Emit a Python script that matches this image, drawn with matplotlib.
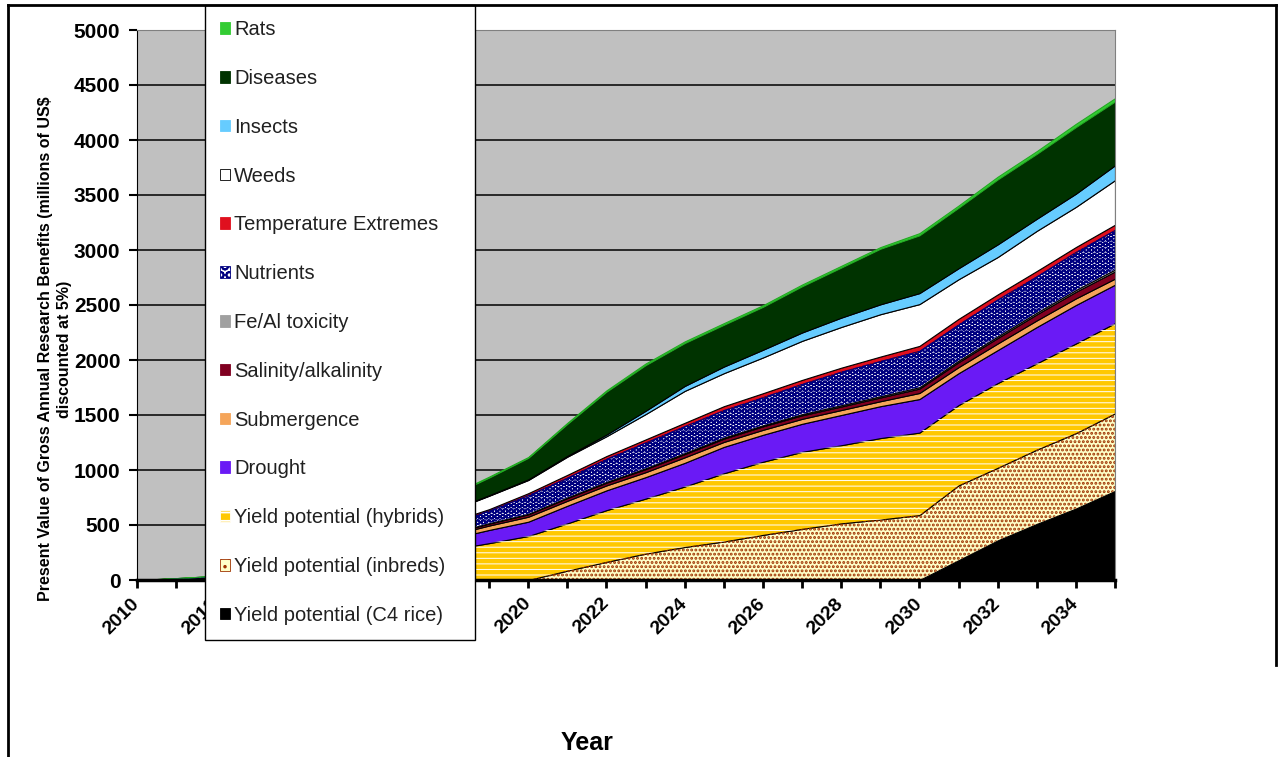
import numpy as np
import matplotlib.pyplot as plt
from matplotlib.patches import Patch
from matplotlib.lines import Line2D

plt.rcParams['font.family'] = ['Liberation Sans', 'DejaVu Sans']
plt.rcParams['hatch.linewidth'] = 1.3

# Data (millions of US$, per constraint, stacked bottom -> top)
years = list(range(2010, 2036))

c4_rice = [0, 0, 0, 0, 0, 0, 0, 0, 0, 0, 0, 0, 0, 0, 0, 0, 0, 0, 0, 0, 0,
           180, 360, 510, 650, 810]
inbreds = [0, 0, 0, 0, 0, 0, 0, 0, 0, 0, 0,
           85, 165, 240, 300, 350, 410, 465, 515, 550, 590,
           680, 660, 675, 685, 705]
hybrids = [0, 7, 13, 30, 57, 94, 141, 201, 275, 335,
           400, 430, 470, 500, 550, 620, 665, 700, 710, 740, 750,
           730, 770, 785, 815, 820]
drought = [0, 2, 5, 11, 20, 34, 50, 72, 98, 120,
           130, 160, 180, 195, 215, 240, 245, 255, 275, 290, 305,
           290, 300, 330, 350, 350]
submergence = [0, 1, 2, 4, 7, 11, 17, 24, 33, 40,
               45, 45, 45, 45, 50, 45, 45, 45, 45, 45, 55,
               55, 60, 60, 60, 55]
salinity = [0, 0, 1, 2, 3, 5, 8, 11, 15, 18,
            22, 25, 25, 28, 30, 30, 32, 32, 32, 34, 40,
            45, 50, 55, 60, 65]
fe_al = [0, 0, 0, 0, 1, 1, 2, 2, 3, 4,
         5, 6, 7, 8, 9, 10, 10, 11, 12, 12, 13,
         14, 15, 16, 17, 18]
nutrients = [0, 2, 5, 10, 20, 32, 48, 69, 94, 115,
             170, 180, 210, 235, 245, 250, 255, 275, 305, 320, 330,
             330, 335, 330, 345, 360]
temperature = [0, 0, 0, 1, 2, 3, 5, 7, 10, 12,
               17, 25, 25, 27, 30, 35, 36, 36, 36, 40, 45,
               50, 46, 48, 45, 47]
weeds = [0, 2, 5, 11, 21, 34, 51, 73, 100, 122,
         120, 165, 180, 230, 290, 300, 325, 355, 370, 385, 380,
         360, 340, 365, 365, 405]
insects = [0, 0, 0, 0, 1, 1, 2, 3, 4, 5,
           6, 8, 15, 30, 45, 60, 70, 76, 85, 90, 100,
           100, 115, 110, 120, 135]
diseases = [0, 3, 6, 14, 27, 45, 67, 96, 131, 160,
            195, 290, 390, 415, 390, 380, 390, 420, 455, 505, 525,
            550, 590, 590, 605, 580]
rats = [0, 0, 0, 1, 2, 3, 4, 5, 7, 9,
        8, 10, 12, 15, 15, 15, 15, 16, 16, 15, 20,
        20, 25, 25, 30, 30]

# (values, label, face, hatch, hatch colour, hatch width, edge colour)
layers = [
    (c4_rice, "Yield potential (C4 rice)", "black", None, None, 0, "black"),
    (inbreds, "Yield potential (inbreds)", "#FFFFC8", "....", "#9E3200", 1.4, "black"),
    (hybrids, "Yield potential (hybrids)", "#FFC800", "---", "white", 0.7, "black"),
    (drought, "Drought", "#6A1AF5", None, None, 0, "black"),
    (submergence, "Submergence", "#F5A55A", None, None, 0, "black"),
    (salinity, "Salinity/alkalinity", "#800020", None, None, 0, "black"),
    (fe_al, "Fe/Al toxicity", "#A0A0A0", None, None, 0, "black"),
    (nutrients, "Nutrients", "white", "OOO", "#000080", 1.3, "black"),
    (temperature, "Temperature Extremes", "#E0101E", None, None, 0, "#8B0000"),
    (weeds, "Weeds", "white", None, None, 0, "black"),
    (insects, "Insects", "#66CCFF", None, None, 0, "black"),
    (diseases, "Diseases", "#003300", None, None, 0, "black"),
    (rats, "Rats", "#33CC33", None, None, 0, "#22AA22"),
]

W, H = 1285, 757
fig = plt.figure(figsize=(W / 100, H / 100), dpi=100)
ax = fig.add_axes([137 / W, 1 - 580 / H, 978 / W, 550 / H])
ax.set_facecolor("#C0C0C0")

x = np.array(years)
base = np.zeros(len(years))
handles = []
for vals, label, fc, hatch, hc, hw, ec in layers:
    top = base + np.array(vals)
    ax.fill_between(x, base, top, facecolor=fc, edgecolor=ec, lw=0.8, zorder=2)
    if hatch:
        with plt.rc_context({"hatch.linewidth": hw}):
            ax.fill_between(x, base, top, facecolor="none", edgecolor=hc, hatch=hatch,
                            lw=0, zorder=2.1)
        handles.append(Patch(facecolor=fc, edgecolor=hc, hatch=hatch[:2], lw=0.6))
    else:
        handles.append(Patch(facecolor=fc, edgecolor="black" if fc == "white" else fc, lw=0.6))
    base = top

ax.set_xlim(2010, 2035)
ax.set_ylim(0, 5000)

ax.set_yticks(range(0, 5001, 500))
ax.yaxis.grid(True, color="black", lw=1.1)
ax.set_axisbelow(True)
ax.tick_params(axis="y", direction="out", length=6, width=1.5, pad=6, labelsize=15)
for t in ax.get_yticklabels():
    t.set_fontweight("bold")

ax.set_xticks(range(2010, 2036, 2))
ax.set_xticks(range(2011, 2036, 2), minor=True)
ax.tick_params(axis="x", which="both", direction="out", length=6, width=2, pad=9)
plt.setp(ax.get_xticklabels(), rotation=45, ha="right", va="center",
         rotation_mode="anchor", fontweight="bold", fontsize=14)

ax.spines["left"].set_color("black")
ax.spines["bottom"].set_linewidth(2.5)
ax.spines["top"].set_color("#808080")
ax.spines["right"].set_color("#808080")

# legend, top layer first
leg = ax.legend(handles[::-1], [l[1] for l in layers][::-1], loc="upper left",
                bbox_to_anchor=(205 / W, 1 - 5 / H, 270 / W, 0), bbox_transform=fig.transFigure,
                mode="expand", frameon=True, fancybox=False, edgecolor="black", framealpha=1,
                fontsize=14.5, labelspacing=1.48, handlelength=0.5, handleheight=0.5,
                handletextpad=0.2, borderpad=0.75, borderaxespad=0)
leg.get_frame().set_linewidth(1.0)
for t in leg.get_texts():
    t.set_color("#202020")

fig.text(55 / W, 1 - 349 / H,
         "Present Value of Gross Annual Research Benefits (millions of US$\ndiscounted at 5%)",
         rotation=90, ha="center", va="center", multialignment="center",
         fontsize=11.5, fontweight="bold", linespacing=1.25)
fig.text(587 / W, 1 - 743 / H, "Year", ha="center", va="center", fontsize=18, fontweight="bold")

# outer frame
fig.add_artist(Line2D([8 / W, 1276 / W], [1 - 5 / H, 1 - 5 / H], transform=fig.transFigure,
                      color="black", lw=2))
fig.add_artist(Line2D([8 / W, 8 / W], [1 - 5 / H, 0], transform=fig.transFigure,
                      color="black", lw=2))
fig.add_artist(Line2D([1276 / W, 1276 / W], [1 - 5 / H, 1 - 665 / H], transform=fig.transFigure,
                      color="black", lw=2))

fig.savefig("out.png", dpi=100)
